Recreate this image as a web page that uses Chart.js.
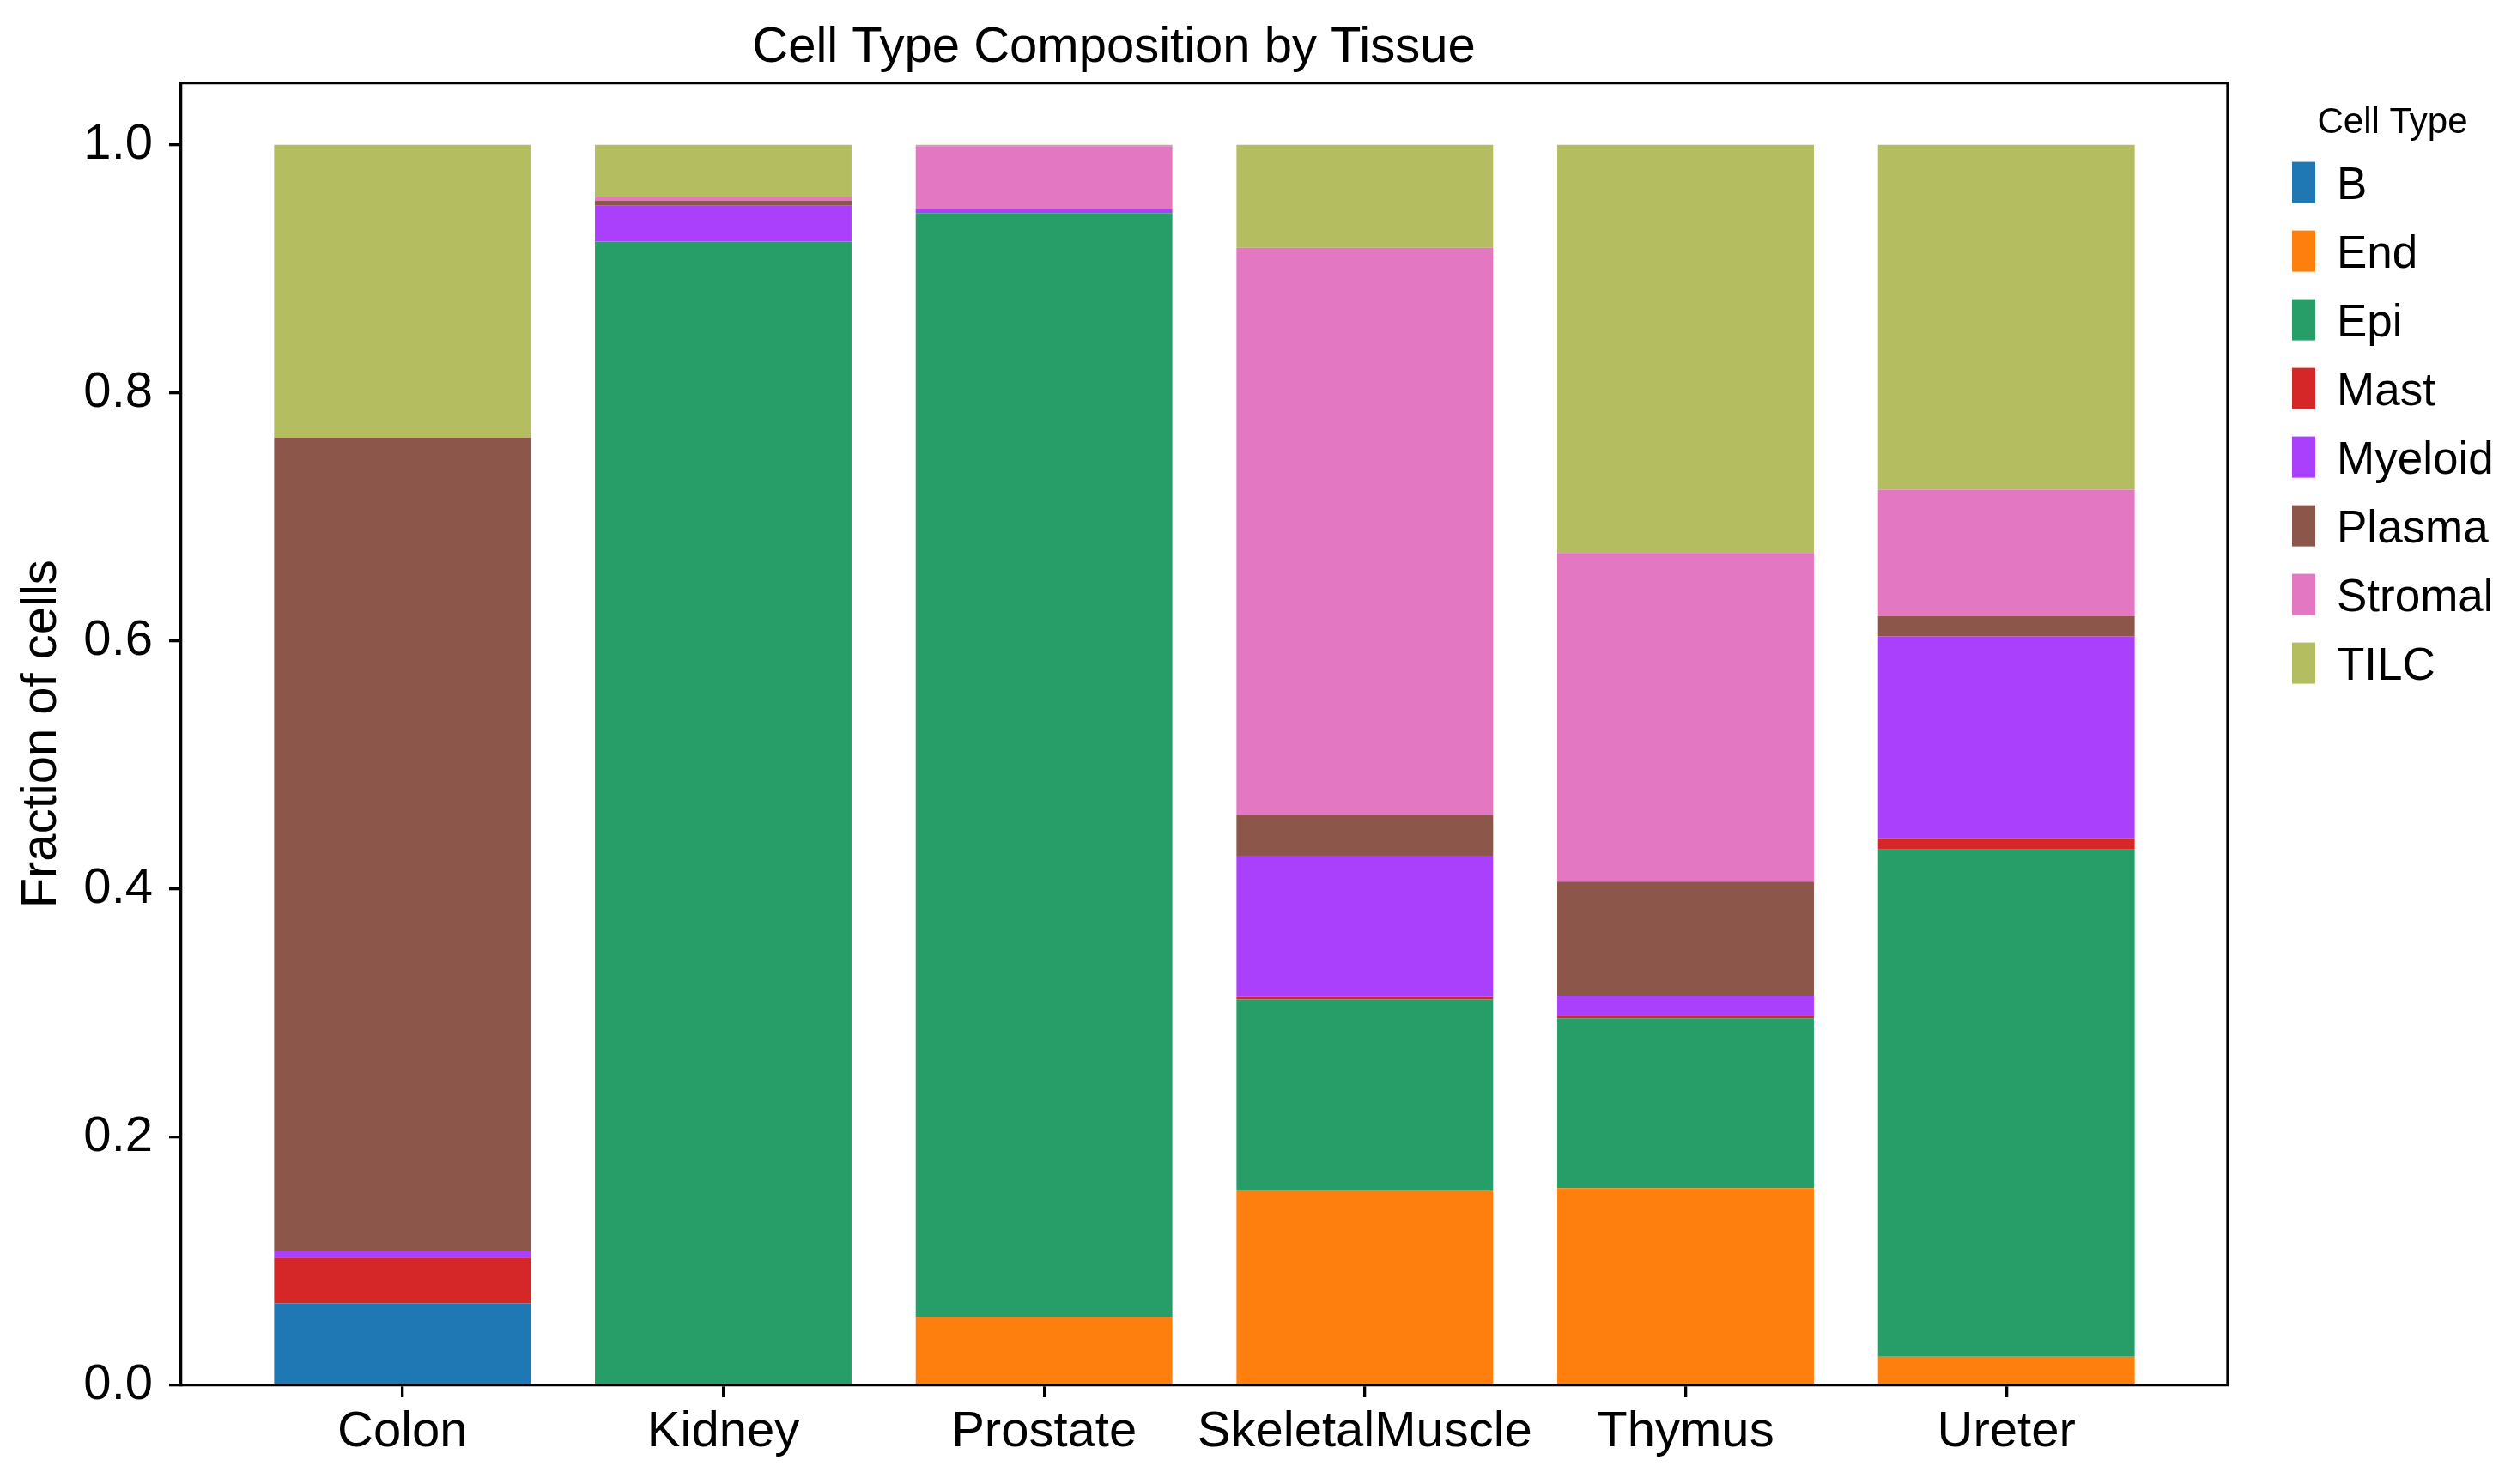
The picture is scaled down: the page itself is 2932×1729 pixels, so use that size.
<!DOCTYPE html>
<html>
<head>
<meta charset="utf-8">
<title>Cell Type Composition by Tissue</title>
<script src="https://cdn.jsdelivr.net/npm/chart.js@4/dist/chart.umd.min.js"></script>
<style>
  html, body { margin: 0; padding: 0; background: #fff; }
  #wrap { width: 2932px; height: 1729px; position: relative; }
</style>
</head>
<body>
<div id="wrap"><canvas id="myChart"></canvas></div>
<script>
'use strict';

// tissues on the x axis
var tissues = ['Colon', 'Kidney', 'Prostate', 'SkeletalMuscle', 'Thymus', 'Ureter'];

// fraction of cells per cell type (one value per tissue)
var bCells = [0.066, 0, 0, 0, 0, 0];
var endCells = [0, 0, 0.055, 0.157, 0.159, 0.023];
var epiCells = [0, 0.922, 0.890, 0.154, 0.137, 0.409];
var mastCells = [0.037, 0, 0, 0.002, 0.002, 0.009];
var myeloidCells = [0.005, 0.029, 0.003, 0.114, 0.016, 0.163];
var plasmaCells = [0.656, 0.004, 0, 0.033, 0.092, 0.016];
var stromalCells = [0, 0.003, 0.051, 0.457, 0.265, 0.102];
var tilcCells = [0.236, 0.042, 0.001, 0.083, 0.329, 0.278];

var cellTypes = ['B', 'End', 'Epi', 'Mast', 'Myeloid', 'Plasma', 'Stromal', 'TILC'];
var cellColors = ['#1f77b4', '#ff7f0e', '#279e68', '#d62728', '#aa40fc', '#8c564b', '#e377c2', '#b5bd61'];
var yTicks = [0, 0.2, 0.4, 0.6, 0.8, 1.0];

var allSeries = [bCells, endCells, epiCells, mastCells, myeloidCells, plasmaCells, stromalCells, tilcCells];

var FONT = '"Liberation Sans", Arial, sans-serif';
Chart.defaults.font.family = FONT;
Chart.defaults.color = '#000';

var datasets = [];
for (var i = 0; i < cellTypes.length; i++) {
    datasets.push({
        label: cellTypes[i],
        backgroundColor: cellColors[i],
        borderWidth: 0,
        barPercentage: 1,
        categoryPercentage: 0.8,
        data: allSeries[i].map(function (v, j) { return { x: j, y: v }; })
    });
}

// top + right spines and the legend on the right side
var framePlugin = {
    id: 'frameAndLegend',
    afterDraw: function (chart) {
        var ctx = chart.ctx;
        var a = chart.chartArea;
        ctx.save();
        ctx.strokeStyle = '#000';
        ctx.lineWidth = 3.3;
        ctx.beginPath();
        ctx.moveTo(a.left, a.top);
        ctx.lineTo(a.right, a.top);
        ctx.lineTo(a.right, a.bottom);
        ctx.stroke();

        // legend title
        ctx.fillStyle = '#000';
        ctx.font = '42px ' + FONT;
        ctx.textAlign = 'center';
        ctx.textBaseline = 'alphabetic';
        ctx.fillText('Cell Type', a.right + 192, a.top + 58);

        ctx.font = '53px ' + FONT;
        ctx.textAlign = 'left';
        chart.data.datasets.forEach(function (ds, k) {
            var cy = a.top + 116 + 80 * k;
            ctx.fillStyle = ds.backgroundColor;
            ctx.fillRect(a.right + 75, cy - 24, 27, 48);
            ctx.fillStyle = '#000';
            ctx.fillText(ds.label, a.right + 127, cy + 19);
        });
        ctx.restore();
    }
};

var ctx = document.getElementById('myChart').getContext('2d');
var chart = new Chart(ctx, {
    type: 'bar',
    data: { datasets: datasets },
    plugins: [framePlugin],
    options: {
        responsive: true,
        maintainAspectRatio: false,
        devicePixelRatio: 1,
        animation: false,
        layout: { padding: { left: 0, right: 337, top: 0, bottom: 0 } },
        plugins: {
            legend: { display: false },
            tooltip: { enabled: false },
            title: {
                display: true,
                text: 'Cell Type Composition by Tissue',
                color: '#000',
                font: { size: 58, weight: 'normal', family: FONT },
                padding: { top: 21, bottom: 6 }
            }
        },
        scales: {
            x: {
                type: 'linear',
                stacked: true,
                offset: false,
                min: -0.69,
                max: 5.69,
                z: 1,
                afterBuildTicks: function (scale) {
                    scale.ticks = tissues.map(function (t, i) { return { value: i }; });
                },
                afterFit: function (scale) { scale.height = 115; },
                ticks: {
                    autoSkip: false,
                    maxRotation: 0,
                    padding: 6,
                    color: '#000',
                    font: { size: 58 },
                    callback: function (v) { return tissues[v]; }
                },
                grid: { offset: false, drawOnChartArea: false, drawTicks: true, tickLength: 14, color: '#000', lineWidth: 3.3 },
                border: { display: true, color: '#000', width: 3.3 }
            },
            y: {
                stacked: true,
                min: 0,
                max: 1.05,
                z: 1,
                afterBuildTicks: function (scale) {
                    scale.ticks = yTicks.map(function (v) { return { value: v }; });
                },
                afterFit: function (scale) { scale.width = 211; },
                title: {
                    display: true,
                    text: 'Fraction of cells',
                    color: '#000',
                    font: { size: 58 },
                    padding: { top: 14, bottom: 0 }
                },
                ticks: {
                    padding: 19,
                    color: '#000',
                    font: { size: 58 },
                    callback: function (v) { return Number(v).toFixed(1); }
                },
                grid: { drawOnChartArea: false, drawTicks: true, tickLength: 14, color: '#000', lineWidth: 3.3 },
                border: { display: true, color: '#000', width: 3.3 }
            }
        }
    }
});
</script>
</body>
</html>
